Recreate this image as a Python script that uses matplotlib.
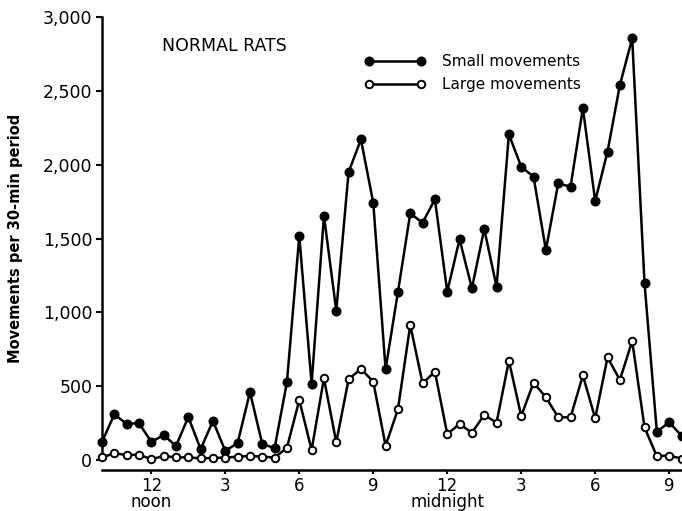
import numpy as np
import matplotlib
matplotlib.use('Agg')
import matplotlib.pyplot as plt

# half-hour periods, 10:00 am to 9:30 am next day (hours from midnight of day 1)
hours = np.arange(10, 34, 0.5)

small = [122, 310, 244, 250, 122, 169, 95, 291, 74, 264, 61, 115,
         460, 108, 81, 528, 1517, 515, 1654, 1011, 1950, 2171, 1742, 614,
         1137, 1670, 1607, 1765, 1140, 1494, 1163, 1564, 1174, 2205, 1986, 1918,
         1422, 1873, 1851, 2383, 1754, 2088, 2539, 2855, 1196, 192, 255, 165]

large = [18, 45, 34, 36, 5, 27, 18, 18, 11, 14, 16, 23,
         27, 23, 16, 83, 406, 68, 553, 120, 546, 618, 530, 97,
         343, 914, 519, 598, 176, 244, 185, 305, 253, 672, 298, 524,
         425, 289, 289, 573, 282, 695, 542, 806, 221, 25, 30, 10]

tick_pos = [12, 15, 18, 21, 24, 27, 30, 33]
tick_lab = ['12\nnoon', '3', '6', '9', '12\nmidnight', '3', '6', '9']
y_ticks = [0, 500, 1000, 1500, 2000, 2500, 3000]
y_lab = ['0', '500', '1,000', '1,500', '2,000', '2,500', '3,000']

W, H = 682, 511
fig = plt.figure(figsize=(W / 100, H / 100), dpi=100)
ax = fig.add_axes([102 / W, (H - 460) / H, (682 - 102) / W, (460 - 17) / H])

ax.plot(hours, small, '-o', color='black', lw=1.8, ms=6.2,
        mfc='black', mec='black', clip_on=False, label='Small movements', zorder=3)
ax.plot(hours, large, '-o', color='black', lw=1.8, ms=5.4,
        mfc='white', mec='black', mew=1.4, clip_on=False, label='Large movements', zorder=4)

ax.set_xlim(10, 33.52)
ax.set_ylim(0, 3000)

for s in ['top', 'right']:
    ax.spines[s].set_visible(False)
ax.spines['left'].set_bounds(0, 3000)
ax.spines['bottom'].set_position(('outward', 7))
ax.spines['left'].set_linewidth(1.8)
ax.spines['bottom'].set_linewidth(1.8)

ax.set_yticks(y_ticks)
ax.set_yticklabels(y_lab, fontsize=12.5)
ax.set_xticks(tick_pos)
ax.set_xticklabels(tick_lab, fontsize=12, linespacing=0.85)
ax.tick_params(axis='y', direction='out', length=4, width=1.5, pad=3)
ax.tick_params(axis='x', direction='out', length=3, width=1.5, pad=2)

ax.set_ylabel('Movements per 30-min period', fontsize=10.5, fontweight='bold', labelpad=14)

ax.text(0.103, 0.935, 'NORMAL RATS', transform=ax.transAxes, fontsize=12.5,
        ha='left', va='center')

ax.legend(loc='upper left', bbox_to_anchor=(364 / W, 1 - 54 / H),
          bbox_transform=fig.transFigure, frameon=False, numpoints=2,
          handlelength=4.0, fontsize=11, labelspacing=0.55, handletextpad=1.1,
          borderpad=0, borderaxespad=0)

fig.savefig('out.png', dpi=100)
